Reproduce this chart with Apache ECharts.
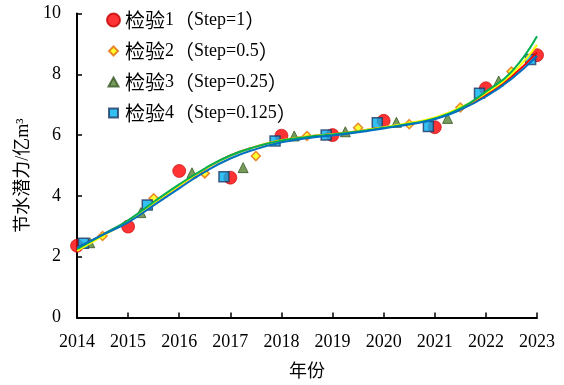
<!DOCTYPE html>
<html><head><meta charset="utf-8">
<script src="https://cdn.jsdelivr.net/npm/echarts@6/dist/echarts.min.js"></script>
<style>html,body{margin:0;padding:0;background:#fff}#c{width:564px;height:385px}</style>
</head><body><div id="c"></div>
<script>
// Measured points
const s1X = [2014, 2015, 2016, 2017, 2018, 2019, 2020, 2021, 2022, 2023];
const s1Y = [2.36, 2.99, 4.82, 4.60, 5.98, 6.00, 6.47, 6.26, 7.54, 8.63];
const s2X = [2014.5, 2015.5, 2016.5, 2017.5, 2018.5, 2019.5, 2020.5, 2021.5, 2022.5];
const s2Y = [2.68, 3.92, 4.74, 5.31, 5.97, 6.24, 6.36, 6.91, 8.09];
const s3X = [2014.25, 2015.25, 2016.25, 2017.25, 2018.25, 2019.25, 2020.25, 2021.25, 2022.25];
const s3Y = [2.46, 3.45, 4.76, 4.93, 5.97, 6.11, 6.42, 6.55, 7.78];
const s4X = [2014.125, 2015.375, 2016.875, 2017.875, 2018.875, 2019.875, 2020.875, 2021.875, 2022.875];
const s4Y = [2.44, 3.70, 4.63, 5.81, 6.00, 6.41, 6.28, 7.38, 8.49];
// Fitted curves
const fitX = [2014, 2014.5, 2015, 2015.5, 2016, 2016.5, 2017, 2017.5, 2018, 2018.5, 2019, 2019.5, 2020, 2020.5, 2021, 2021.5, 2022, 2022.5, 2023];
const fit1 = [2.28, 2.72, 3.18, 3.76, 4.33, 4.88, 5.33, 5.62, 5.83, 5.95, 6.03, 6.13, 6.25, 6.38, 6.55, 6.86, 7.33, 7.92, 8.72];
const fit2 = [2.19, 2.68, 3.17, 3.76, 4.34, 4.88, 5.32, 5.62, 5.83, 5.95, 6.03, 6.13, 6.26, 6.40, 6.58, 6.90, 7.38, 8.00, 8.97];
const fit3 = [2.25, 2.72, 3.20, 3.80, 4.38, 4.90, 5.33, 5.62, 5.82, 5.94, 6.02, 6.12, 6.24, 6.37, 6.55, 6.88, 7.43, 8.08, 9.25];
const fit4 = [2.30, 2.72, 3.13, 3.69, 4.25, 4.79, 5.23, 5.54, 5.76, 5.90, 5.99, 6.09, 6.22, 6.35, 6.52, 6.83, 7.27, 7.85, 8.60];
const names = ['检验1（Step=1）', '检验2（Step=0.5）', '检验3（Step=0.25）', '检验4（Step=0.125）'];
const xTicks = [2014, 2023, 1];
const yTicks = [0, 10, 2];

const zip = (xs, ys) => xs.map((x, i) => [x, ys[i]]);
const FONT = '"Liberation Serif", "Times New Roman", "Noto Sans CJK SC", serif';
const CJK = '"Noto Sans CJK SC", sans-serif';
// legend icons with transparent padding so they look smaller than the circle
const PAD = 'M0,0 M13,13 ';
const iconDiamond = 'path://' + PAD + 'M6.5,2 L11,6.5 L6.5,11 L2,6.5 Z';
const iconTri = 'path://' + PAD + 'M6.5,2 L11.5,11 L1.5,11 Z';
const iconRect = 'path://' + PAD + 'M2,2 L11,2 L11,11 L2,11 Z';
// split text into CJK / Latin runs for rich styling
const richLabel = s => s.replace(/([\u3000-\u9fff\uff00-\uffef]+)|([^\u3000-\u9fff\uff00-\uffef]+)/g,
  (m, c, l) => c ? '{c|' + c + '}' : '{l|' + l + '}');
const chart = echarts.init(document.getElementById('c'), null, {renderer: 'canvas'});
const fitLine = (d, c, z) => ({type: 'line', data: zip(fitX, d), smooth: 0.5, showSymbol: false, symbol: 'none',
  lineStyle: {color: c, width: 2}, z: z, silent: true});
chart.setOption({
  animation: false,
  grid: {left: 77, right: 27, top: 13.5, bottom: 67.5, outerBoundsMode: 'none'},
  legend: {
    data: [
      {name: names[0], icon: 'circle'},
      {name: names[1], icon: iconDiamond},
      {name: names[2], icon: iconTri},
      {name: names[3], icon: iconRect}
    ],
    orient: 'vertical', left: 101, top: 5, itemGap: 11,
    itemWidth: 13, itemHeight: 13,
    formatter: richLabel,
    textStyle: {fontFamily: FONT, fontSize: 18, color: '#000',
      rich: {c: {fontFamily: CJK, fontSize: 20, color: '#000'}, l: {fontFamily: FONT, fontSize: 18, color: '#000'}}}
  },
  xAxis: {
    type: 'value', min: xTicks[0], max: xTicks[1], interval: xTicks[2],
    name: '年份', nameLocation: 'middle', nameGap: 46,
    nameTextStyle: {fontFamily: FONT, fontSize: 18, color: '#000'},
    axisLine: {lineStyle: {color: '#000', width: 2}},
    axisTick: {inside: true, length: 5, lineStyle: {color: '#000', width: 1.5}},
    axisLabel: {fontFamily: FONT, fontSize: 18, color: '#000', margin: 16, formatter: v => String(v)},
    splitLine: {show: false}
  },
  yAxis: {
    type: 'value', min: yTicks[0], max: yTicks[1], interval: yTicks[2],
    name: '节水潜力/亿m³', nameLocation: 'middle', nameGap: 43,
    nameTextStyle: {fontFamily: FONT, fontSize: 18, color: '#000', padding: [0, 20, 0, 0]},
    axisLine: {show: true, lineStyle: {color: '#000', width: 2}},
    axisTick: {show: true, inside: true, length: 5, lineStyle: {color: '#000', width: 1.5}},
    axisLabel: {fontFamily: FONT, fontSize: 18, color: '#000', margin: 16},
    splitLine: {show: false}
  },
  series: [
    {name: names[0], type: 'scatter', data: zip(s1X, s1Y), symbol: 'circle', symbolSize: 13,
      itemStyle: {color: '#FF0000', borderColor: '#C00000', borderWidth: 0.8}, z: 2},
    {name: names[1], type: 'scatter', data: zip(s2X, s2Y), symbol: 'diamond', symbolSize: 9,
      itemStyle: {color: '#FFFF00', borderColor: '#E46C0A', borderWidth: 1.5}, z: 2},
    {name: names[2], type: 'scatter', data: zip(s3X, s3Y), symbol: 'triangle', symbolSize: 10,
      itemStyle: {color: '#548235', borderColor: '#385723', borderWidth: 1}, z: 2},
    {name: names[3], type: 'scatter', data: zip(s4X, s4Y), symbol: 'rect', symbolSize: 10,
      itemStyle: {color: '#00B0F0', borderColor: '#1F3864', borderWidth: 1.5}, z: 2},
    fitLine(fit1, '#FF0000', 3),
    fitLine(fit2, '#FFFF00', 4),
    fitLine(fit3, '#00B050', 5),
    fitLine(fit4, '#0070C0', 6)
  ]
});
</script></body></html>
